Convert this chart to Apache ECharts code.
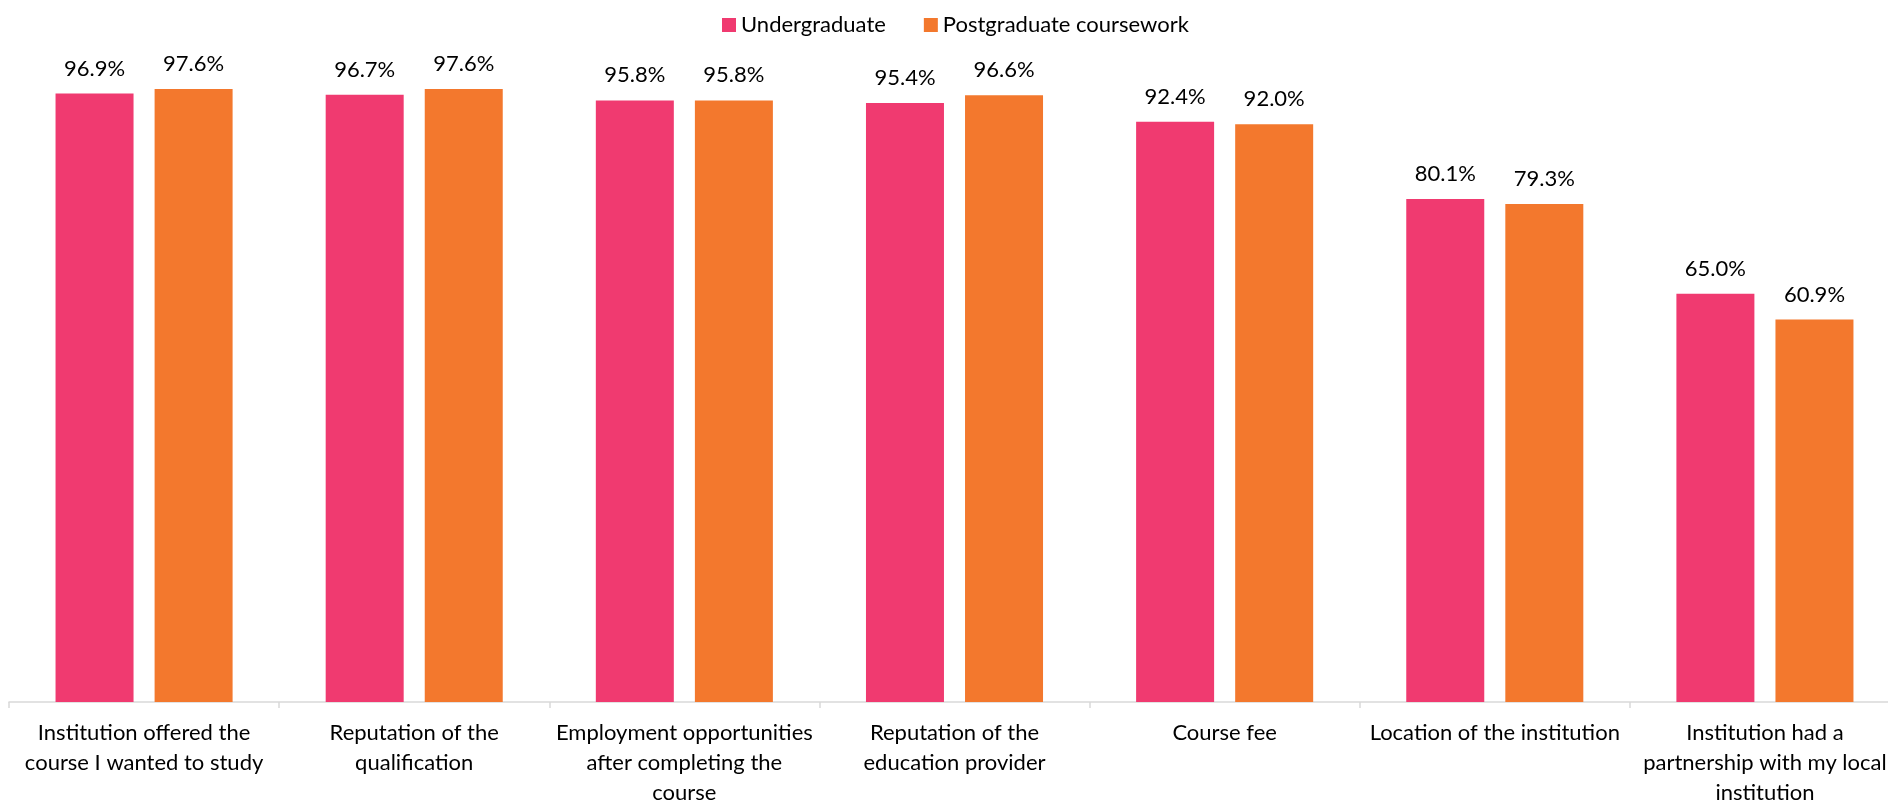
<!DOCTYPE html>
<html>
<head>
<meta charset="utf-8">
<script src="https://cdn.jsdelivr.net/npm/echarts@6/dist/echarts.min.js"></script>
<style>html,body{margin:0;padding:0;background:#fff;}#c{width:1888px;height:801px;}</style>
</head>
<body>
<div id="c"></div>
<script>
const categories = [
  "Institution offered the\ncourse I wanted to study",
  "Reputation of the\nqualification",
  "Employment opportunities\nafter completing the\ncourse",
  "Reputation of the\neducation provider",
  "Course fee",
  "Location of the institution",
  "Institution had a\npartnership with my local\ninstitution"
];
const seriesNames = ["Undergraduate", "Postgraduate coursework"];
const undergraduate = [96.9, 96.7, 95.8, 95.4, 92.4, 80.1, 65.0];
const postgraduate = [97.6, 97.6, 95.8, 96.6, 92.0, 79.3, 60.9];
const colors = ["#F03A70", "#F3782D"];

const FONT = "Lato";
const chart = echarts.init(document.getElementById('c'));
const labelCfg = {
  show: true, position: 'top', distance: 14,
  color: '#000', fontFamily: FONT, fontSize: 22,
  formatter: p => p.value.toFixed(1) + '%'
};
chart.setOption({
  animation: false,
  color: colors,
  legend: {
    top: 9, left: 717,
    itemWidth: 14, itemHeight: 14, itemGap: 38,
    icon: 'rect',
    textStyle: { fontFamily: FONT, fontSize: 22, color: '#000' }
  },
  grid: { left: 9, top: 74, width: 1891, height: 628, containLabel: false, outerBoundsMode: 'none' },
  xAxis: {
    type: 'category', data: categories,
    axisLine: { lineStyle: { color: '#d9d9d9', width: 1.5 } },
    axisTick: { show: true, length: 6, lineStyle: { color: '#d9d9d9', width: 1.5 } },
    axisLabel: { interval: 0, margin: 16, lineHeight: 30, fontFamily: FONT, fontSize: 22, color: '#000' }
  },
  yAxis: { type: 'value', min: 0, max: 100, show: false, splitLine: { show: false } },
  series: [
    { name: seriesNames[0], type: 'bar', data: undergraduate, barWidth: 78, barGap: '27%', label: labelCfg },
    { name: seriesNames[1], type: 'bar', data: postgraduate, barWidth: 78, barGap: '27%', label: labelCfg }
  ]
});
</script>
</body>
</html>
